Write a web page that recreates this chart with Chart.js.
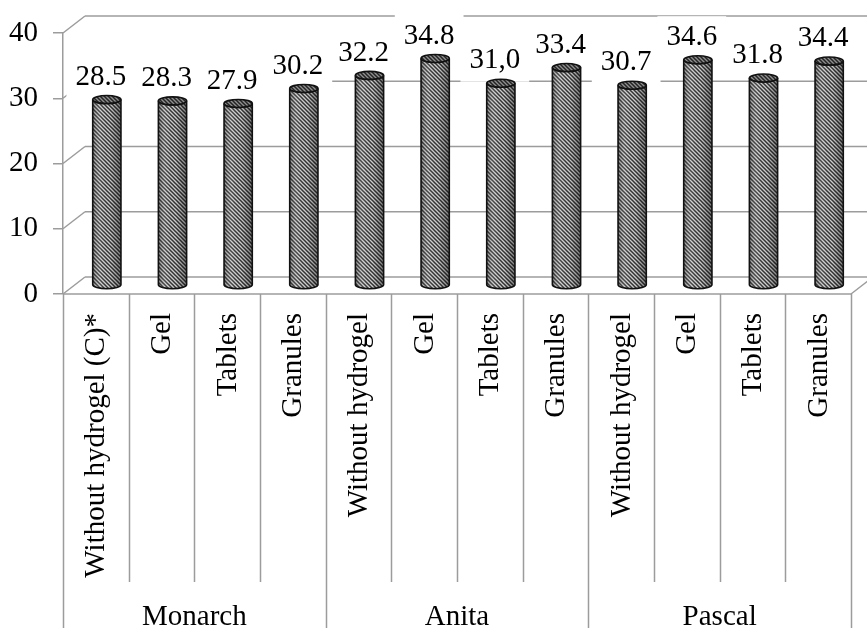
<!DOCTYPE html>
<html>
<head>
<meta charset="utf-8">
<script src="https://cdn.jsdelivr.net/npm/chart.js@4.4.1/dist/chart.umd.min.js"></script>
<style>
  html, body { margin: 0; padding: 0; background: #fff; }
  canvas { display: block; }
</style>
</head>
<body>
<canvas id="chart" width="867" height="628"></canvas>
<script>
// Varieties and the hydrogel treatments tested on each
const varieties = ['Monarch', 'Anita', 'Pascal'];
const treatments = [
  ['Without hydrogel (C)*', 'Gel', 'Tablets', 'Granules'],
  ['Without hydrogel', 'Gel', 'Tablets', 'Granules'],
  ['Without hydrogel', 'Gel', 'Tablets', 'Granules']
];
const values = [28.5, 28.3, 27.9, 30.2, 32.2, 34.8, 31.0, 33.4, 30.7, 34.6, 31.8, 34.4];
const valueLabels = ['28.5', '28.3', '27.9', '30.2', '32.2', '34.8', '31,0', '33.4', '30.7', '34.6', '31.8', '34.4'];
const yTicks = [0, 10, 20, 30, 40];

const categories = treatments.flat();
const perGroup = treatments[0].length;

const FONT = '"Liberation Serif", "Times New Roman", serif';
const FONT_SIZE = 29;
const GRID = '#9c9c9c';
const DEPTH = { x: 22, y: -17 };   // offset of the back wall from the front plane

function strokeLine(ctx, x1, y1, x2, y2) {
  ctx.beginPath();
  ctx.moveTo(x1, y1);
  ctx.lineTo(x2, y2);
  ctx.stroke();
}

function makeHatch(ctx, bg, fg) {
  const c = document.createElement('canvas');
  c.width = c.height = 4;
  const g = c.getContext('2d');
  g.fillStyle = bg;
  g.fillRect(0, 0, 4, 4);
  g.strokeStyle = fg;
  g.lineWidth = 1.5;
  g.beginPath();
  g.moveTo(-1, -1); g.lineTo(5, 5);
  g.moveTo(-1, 3); g.lineTo(1, 5);
  g.moveTo(3, -1); g.lineTo(5, 1);
  g.stroke();
  return ctx.createPattern(c, 'repeat');
}

function drawCylinder(ctx, cx, top, bottom, rx, ry, hatch) {
  // body: sides plus the front half of the base
  ctx.beginPath();
  ctx.moveTo(cx - rx, top);
  ctx.lineTo(cx - rx, bottom);
  ctx.ellipse(cx, bottom, rx, ry, 0, Math.PI, 0, true);
  ctx.lineTo(cx + rx, top);
  ctx.ellipse(cx, top, rx, ry, 0, 0, Math.PI, false);
  ctx.closePath();
  ctx.fillStyle = hatch;
  ctx.fill();
  const shade = ctx.createLinearGradient(cx - rx, 0, cx + rx, 0);
  shade.addColorStop(0, 'rgba(0,0,0,0.35)');
  shade.addColorStop(0.3, 'rgba(255,255,255,0.08)');
  shade.addColorStop(0.6, 'rgba(0,0,0,0)');
  shade.addColorStop(1, 'rgba(0,0,0,0.4)');
  ctx.fillStyle = shade;
  ctx.fill();
  ctx.strokeStyle = '#111';
  ctx.lineWidth = 1.6;
  ctx.stroke();

  // top cap
  ctx.beginPath();
  ctx.ellipse(cx, top, rx, ry, 0, 0, Math.PI * 2);
  ctx.fillStyle = hatch;
  ctx.fill();
  ctx.fillStyle = 'rgba(0,0,0,0.3)';
  ctx.fill();
  ctx.stroke();
}

const wall3d = {
  id: 'wall3d',
  beforeDatasetsDraw(chart) {
    const { ctx, chartArea: a, scales: { y } } = chart;
    ctx.save();
    ctx.strokeStyle = GRID;
    ctx.lineWidth = 1.5;
    yTicks.forEach(v => {
      const py = y.getPixelForValue(v);
      strokeLine(ctx, a.left, py, a.left + DEPTH.x, py + DEPTH.y);
      strokeLine(ctx, a.left + DEPTH.x, py + DEPTH.y, a.right + DEPTH.x, py + DEPTH.y);
    });
    // floor: front edge and right edge
    strokeLine(ctx, a.left, a.bottom, a.right, a.bottom);
    strokeLine(ctx, a.right, a.bottom, a.right + DEPTH.x, a.bottom + DEPTH.y);
    ctx.restore();
  },
  afterDatasetsDraw(chart) {
    const { ctx, chartArea: a, scales: { x } } = chart;
    const meta = chart.getDatasetMeta(0);
    const hatch = makeHatch(ctx, '#cfcfcf', '#333');
    ctx.save();
    ctx.font = `${FONT_SIZE}px ${FONT}`;

    // value label positions and their white backing boxes
    const labelPos = meta.data.map(bar => {
      const cx = bar.x + DEPTH.x / 2;
      const top = bar.y + DEPTH.y / 2;
      return { x: cx - 6, y: top - 22.5 };
    });
    ctx.fillStyle = '#fff';
    labelPos.forEach((p, i) => {
      const tw = ctx.measureText(valueLabels[i]).width;
      ctx.fillRect(p.x - tw / 2 - 9, p.y - 21, tw + 18, 42);
    });

    // cylinders, set halfway into the depth of the plot
    meta.data.forEach(bar => {
      const cx = bar.x + DEPTH.x / 2;
      const top = bar.y + DEPTH.y / 2;
      const bottom = bar.base + DEPTH.y / 2;
      drawCylinder(ctx, cx, top, bottom, bar.width / 2, 4, hatch);
    });

    ctx.fillStyle = '#000';
    ctx.textAlign = 'center';
    ctx.textBaseline = 'middle';
    labelPos.forEach((p, i) => ctx.fillText(valueLabels[i], p.x, p.y));

    // category axis: separators
    const w = (a.right - a.left) / categories.length;
    ctx.strokeStyle = GRID;
    ctx.lineWidth = 1.5;
    for (let k = 0; k <= categories.length; k++) {
      const px = Math.round(a.left + k * w) + 0.5;
      const end = k % perGroup === 0 ? chart.height : a.bottom + 288;
      strokeLine(ctx, px, a.bottom, px, end);
    }

    // treatment names, rotated
    categories.forEach((name, i) => {
      const px = x.getPixelForValue(i);
      ctx.save();
      ctx.translate(px + 1, a.bottom + 19);
      ctx.rotate(-Math.PI / 2);
      ctx.textAlign = 'right';
      ctx.textBaseline = 'middle';
      ctx.fillText(name, 0, 0);
      ctx.restore();
    });

    // variety names
    ctx.textAlign = 'center';
    ctx.textBaseline = 'alphabetic';
    varieties.forEach((name, g) => {
      const x0 = x.getPixelForValue(g * perGroup);
      const x1 = x.getPixelForValue(g * perGroup + perGroup - 1);
      ctx.fillText(name, (x0 + x1) / 2, chart.height - 3);
    });
    ctx.restore();
  }
};

new Chart(document.getElementById('chart'), {
  type: 'bar',
  data: {
    labels: categories,
    datasets: [{
      data: values,
      backgroundColor: 'rgba(0,0,0,0)',
      borderWidth: 0,
      categoryPercentage: 1,
      barPercentage: 0.43
    }]
  },
  options: {
    responsive: false,
    animation: false,
    devicePixelRatio: 1,
    events: [],
    layout: { padding: { top: 33, right: 16, left: 0, bottom: 0 } },
    plugins: { legend: { display: false }, tooltip: { enabled: false } },
    scales: {
      x: {
        type: 'category',
        offset: true,
        grid: { display: false },
        border: { display: false },
        ticks: { display: false },
        afterFit(s) { s.height = 334; }
      },
      y: {
        min: 0,
        max: 40,
        afterBuildTicks(s) { s.ticks = yTicks.map(v => ({ value: v })); },
        grid: { drawOnChartArea: false, color: GRID, lineWidth: 1.5, tickLength: 10 },
        border: { color: GRID, width: 1.5 },
        ticks: { color: '#000', font: { family: FONT, size: FONT_SIZE }, padding: 15 },
        afterFit(s) { s.width = 63; }
      }
    }
  },
  plugins: [wall3d]
});
</script>
</body>
</html>
